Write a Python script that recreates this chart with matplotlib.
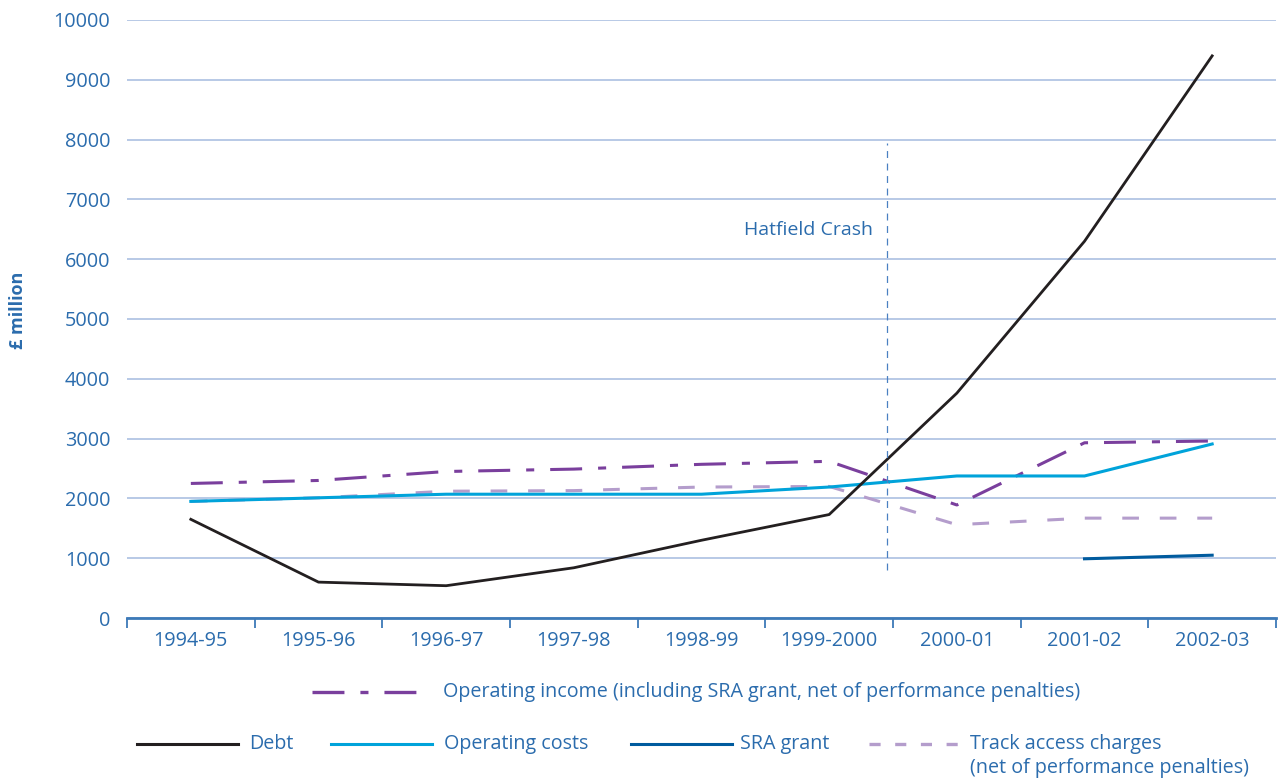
import matplotlib.pyplot as plt
from matplotlib.lines import Line2D
import numpy as np

plt.rcParams['font.family'] = ['Open Sans', 'DejaVu Sans']
plt.rcParams['lines.scale_dashes'] = False

years = ['1994-95', '1995-96', '1996-97', '1997-98', '1998-99',
         '1999-2000', '2000-01', '2001-02', '2002-03']

debt = [1650, 600, 540, 840, 1300, 1730, 3760, 6300, 9400]
operating_costs = [1950, 2010, 2070, 2070, 2070, 2190, 2375, 2375, 2910]
operating_income = [2250, 2300, 2450, 2490, 2570, 2620, 1890, 2930, 2960]
track_access = [1950, 2010, 2120, 2130, 2190, 2200, 1560, 1670, 1670]
sra_grant = [np.nan] * 7 + [990, 1050]

hatfield_pos = 5.45
hatfield_range = (800, 7950)

text_blue = '#2b6cad'
grid_blue = '#a4badf'
c_debt = '#231f20'
c_costs = '#00a3da'
c_sra = '#005b9e'
c_income = '#7a3f9d'
c_track = '#b49dcc'

income_dash = (0, (23, 11.5, 5.8, 11.5))
track_dash = (0, (12, 15))

fig = plt.figure(figsize=(12.82, 7.83), dpi=100)
ax = fig.add_axes([127 / 1282, 1 - 618 / 783, (1276 - 127) / 1282, (618 - 20) / 783])

x = np.arange(len(years))
ax.plot(x, operating_income, color=c_income, lw=2.2, linestyle=income_dash)
ax.plot(x, track_access, color=c_track, lw=2.2, linestyle=track_dash)
ax.plot(x, operating_costs, color=c_costs, lw=2.2)
ax.plot(x, sra_grant, color=c_sra, lw=2.2)
ax.plot(x, debt, color=c_debt, lw=2.0)

# Hatfield marker
ax.plot([hatfield_pos, hatfield_pos], hatfield_range, color='#4a80c2', lw=0.9,
        linestyle=(0, (5, 4)))
ax.text(hatfield_pos - 0.11, 6480, 'Hatfield Crash', color=text_blue, fontsize=14,
        ha='right', va='center')

ax.set_xlim(-0.5, len(years) - 0.5)
ax.set_ylim(0, 10000)
ax.set_yticks(np.arange(0, 10001, 1000))
ax.yaxis.grid(True, color=grid_blue, lw=1.1)
ax.set_axisbelow(True)
ax.tick_params(axis='y', length=0, pad=12, labelsize=14.3, labelcolor=text_blue)

ax.set_xticks(x)
ax.set_xticklabels(years)
ax.set_xticks(np.arange(-0.5, len(years)), minor=True)
ax.tick_params(axis='x', which='major', length=0, pad=9, labelsize=14.3, labelcolor=text_blue)
ax.tick_params(axis='x', which='minor', length=7, width=1.3, color='#3d7ab8', direction='out')

for s in ['top', 'right', 'left']:
    ax.spines[s].set_visible(False)
ax.spines['bottom'].set_color('#3d7ab8')
ax.spines['bottom'].set_linewidth(2)

fig.text(18 / 1282, 1 - 310 / 783, '£ million', rotation=90, color=text_blue,
         fontsize=13, fontweight='bold', ha='center', va='center')

# legend
def key(x0, x1, y, **kw):
    fig.add_artist(Line2D([x0 / 1282, x1 / 1282], [1 - y / 783, 1 - y / 783],
                          transform=fig.transFigure, **kw))

def label(x0, y, s):
    fig.text(x0 / 1282, 1 - y / 783, s, color=text_blue, fontsize=14.2,
             ha='left', va='center')

key(312, 416, 692, color=c_income, lw=2.4, linestyle=income_dash)
label(443, 692, 'Operating income (including SRA grant, net of performance penalties)')
key(137, 238, 744, color=c_debt, lw=2.2)
label(249, 744, 'Debt')
key(331, 432, 744, color=c_costs, lw=2.2)
label(444, 744, 'Operating costs')
key(631, 732, 744, color=c_sra, lw=2.2)
label(740, 744, 'SRA grant')
key(869, 962, 744, color=c_track, lw=2.4, linestyle=(0, (8, 10.5)))
label(970, 744, 'Track access charges')
label(970, 768, '(net of performance penalties)')

fig.savefig('out.png', dpi=100)
